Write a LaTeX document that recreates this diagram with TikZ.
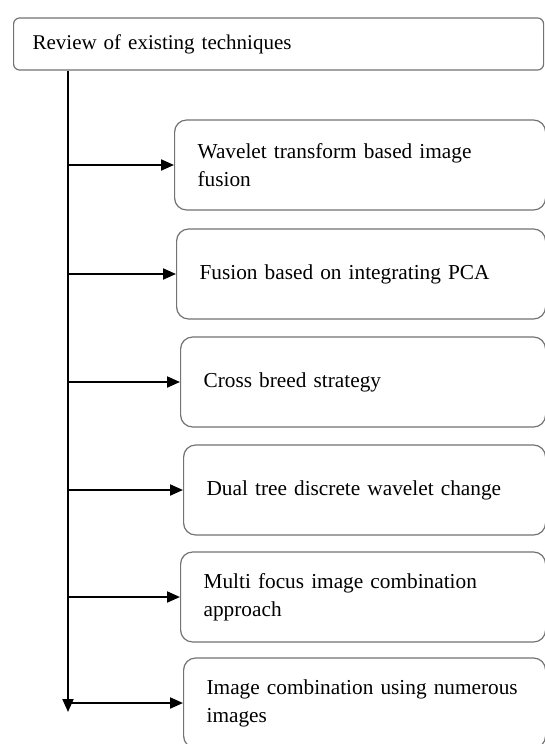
\documentclass[tikz,border=0pt]{standalone}
\usepackage{fontspec}
\setmainfont{Liberation Serif}
\usepackage{tikz}
\usetikzlibrary{arrows.meta,positioning,calc}
\hyphenpenalty=10000
\tikzset{
  head/.style={draw=black!55, line width=0.6pt, rounded corners=3pt, align=left, text width=246pt, inner xsep=9.5pt, minimum height=26pt, anchor=west, font=\fontsize{10.5}{13}\selectfont},
  item/.style={draw=black!55, line width=0.6pt, rounded corners=6pt, align=left, text width=#1, inner xsep=11.5pt, minimum height=45pt, anchor=west, font=\fontsize{10.65}{14}\selectfont},
  item/.default=160pt,
  arrow/.style={-{Triangle[length=6.5pt,width=5.5pt]}, line width=1pt}
}
\begin{document}
\begin{tikzpicture}[x=0.5pt, y=-0.5pt]
  \path[use as bounding box, fill=white] (0,0) rectangle (545,744);

  \node[head] (top) at (13,44) {Review of existing techniques};

  \node[item=162.5pt] (b1) at (174,165) {Wavelet transform based image\\fusion};
  \node[item=161.5pt] (b2) at (176,274) {Fusion based on integrating PCA};
  \node[item=159.5pt] (b3) at (180,382) {Cross breed strategy};
  \node[item=158pt] (b4) at (183,490) {Dual tree discrete wavelet change};
  \node[item=159.5pt] (b5) at (180,597) {Multi focus image combination\\approach};
  \node[item=158pt] (b6) at (183,703) {Image combination using numerous\\images};

  \coordinate (trunk) at (68,712);

  \draw[arrow] (top.south -| trunk) -- (trunk);
  \draw[arrow] (b1.west -| trunk) -- (b1.west);
  \draw[arrow] (b2.west -| trunk) -- (b2.west);
  \draw[arrow] (b3.west -| trunk) -- (b3.west);
  \draw[arrow] (b4.west -| trunk) -- (b4.west);
  \draw[arrow] (b5.west -| trunk) -- (b5.west);
  \draw[arrow] (b6.west -| trunk) -- (b6.west);
\end{tikzpicture}
\end{document}
